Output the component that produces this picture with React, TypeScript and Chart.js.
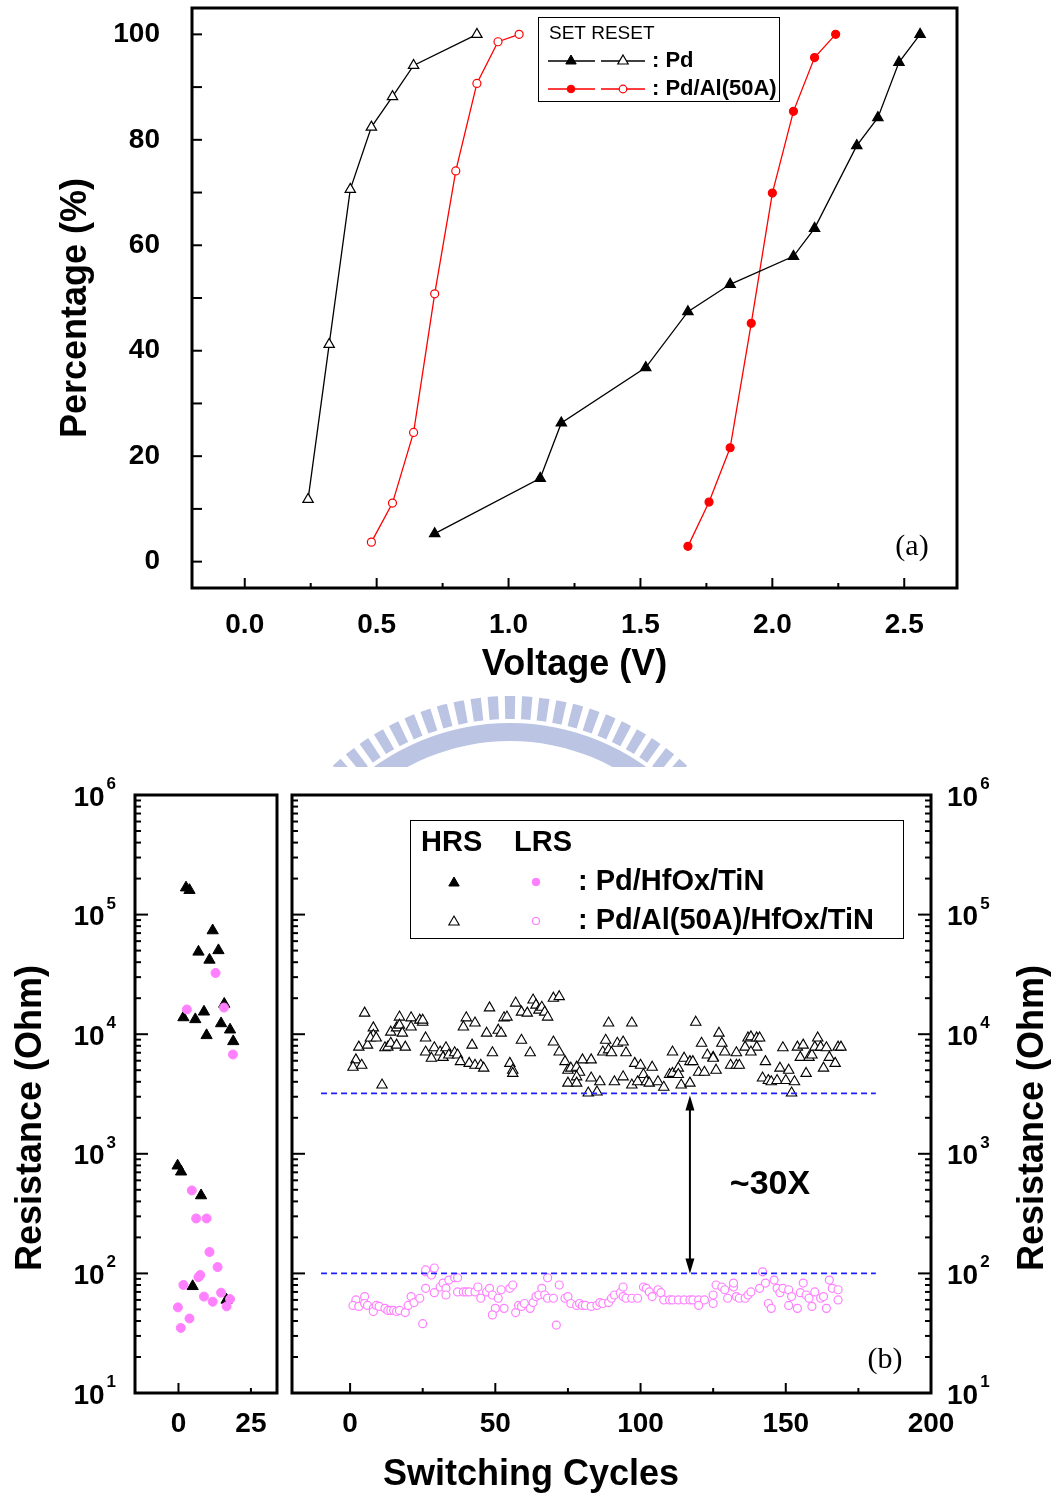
import React, { useEffect, useRef } from 'react';
import { Chart, registerables } from 'chart.js';

Chart.register(...registerables);

const FONT = '"Liberation Sans", Arial, Helvetica, sans-serif';
const SERIF = '"Liberation Serif", "Times New Roman", serif';
Chart.defaults.font.family = FONT;
Chart.defaults.color = '#000';

// ---------------- (a) cumulative distribution data ----------------
const pdSetVoltage = [0.72, 1.12, 1.2, 1.52, 1.68, 1.84, 2.08, 2.16, 2.32, 2.4, 2.48, 2.56];
const pdSetPercent = [5.3, 15.8, 26.3, 36.8, 47.4, 52.6, 57.9, 63.2, 78.9, 84.2, 94.7, 100];
const pdResetVoltage = [0.24, 0.32, 0.4, 0.48, 0.56, 0.64, 0.88];
const pdResetPercent = [11.8, 41.2, 70.6, 82.4, 88.2, 94.1, 100];
const alSetVoltage = [1.68, 1.76, 1.84, 1.92, 2.0, 2.08, 2.16, 2.24];
const alSetPercent = [2.9, 11.3, 21.6, 45.2, 69.9, 85.4, 95.6, 100];
const alResetVoltage = [0.48, 0.56, 0.64, 0.72, 0.8, 0.88, 0.96, 1.04];
const alResetPercent = [3.7, 11.1, 24.5, 50.8, 74.1, 90.7, 98.6, 100];

const voltageTicks = [0, 0.5, 1, 1.5, 2, 2.5];
const voltageMinorTicks = [0.25, 0.75, 1.25, 1.75, 2.25];
const percentTicks = [0, 20, 40, 60, 80, 100];
const percentAllTicks = [0, 10, 20, 30, 40, 50, 60, 70, 80, 90, 100];

// ---------------- (b) endurance data ----------------
const pdHrsCycle = [2.6, 3.8, 11.8, 6.9, 13.8, 10.7, 15.8, 8.8, 1.7, 5.8, 14.7, 17.8, 9.7, 18.9, -0.3, 0.9, 7.8, 4.9, 16.6];
const pdHrsOhm = [168000, 160000, 73600, 48800, 50200, 41800, 17900, 15400, 13800, 13300, 12300, 10900, 9780, 8710, 795, 708, 448, 78, 60];
const pdLrsCycle = [2.9, 12.8, 15.7, 18.8, 4.6, 6.1, 9.7, 10.7, 13.5, 7.5, 6.9, 1.7, 8.8, 11.8, 14.7, 17.8, 16.6, -0.2, 3.8, 0.8];
const pdLrsOhm = [16100, 32500, 16700, 6770, 494, 288, 288, 151, 113, 97, 93, 80, 64, 58, 69, 61, 53, 52, 42, 35];

const alHrsCycle = [
  5, 2, 1, 4, 3, 6, 8, 8, 7, 9,
  11, 12, 13, 14, 16, 19, 14, 16, 17, 17,
  18, 21, 21, 24, 25, 25, 26, 26, 28, 29,
  31, 32, 33, 34, 36, 37, 38, 41, 43, 45,
  46, 42, 40, 39, 43, 48, 47, 49, 51, 52,
  53, 54, 55, 56, 56, 57, 59, 59, 61, 62,
  63, 64, 65, 66, 67, 68, 70, 72, 70, 72,
  74, 75, 76, 78, 79, 78, 80, 83, 75, 78,
  82, 85, 83, 86, 87, 89, 90, 88, 89, 91,
  92, 94, 94, 95, 97, 97, 98, 100, 99, 101,
  102, 103, 104, 106, 108, 110, 111, 111, 113, 113,
  114, 115, 117, 118, 117, 119, 120, 122, 121, 123,
  125, 125, 126, 127, 128, 129, 131, 133, 134, 133,
  136, 137, 138, 140, 141, 140, 138, 142, 143, 144,
  145, 147, 148, 149, 150, 151, 152, 153, 154, 155,
  156, 157, 158, 159, 160, 161, 162, 164, 163, 165,
  167, 168, 169,
];
const alHrsOhm = [
  15000, 6100, 5300, 5500, 7800, 8100, 11300, 9800, 9300, 9300,
  3760, 7700, 7800, 8400, 8100, 7800, 10400, 11300, 13900, 11900,
  10200, 13700, 11500, 13100, 12600, 13100, 9300, 7100, 6300, 7700,
  7100, 6400, 7700, 6700, 7000, 6700, 5900, 5700, 5500, 5500,
  5200, 8100, 13700, 11500, 12400, 16600, 10200, 7000, 10800, 10200,
  13700, 13900, 5700, 5000, 4700, 18200, 8900, 15300, 15000, 7000,
  19300, 17500, 15900, 16800, 15300, 13900, 20000, 20600, 8600, 7100,
  5900, 5000, 5200, 5300, 4800, 4400, 6100, 6100, 3900, 3900,
  3220, 3290, 4300, 4000, 7100, 7400, 7000, 8900, 12400, 4000,
  8400, 8600, 4400, 7000, 12400, 3760, 5700, 5500, 4000, 4600,
  4000, 3900, 5300, 4000, 3600, 4600, 4700, 7100, 5200, 4600,
  3760, 6300, 5900, 5900, 3900, 12600, 4800, 4800, 8400, 6700,
  6400, 6300, 5000, 10200, 8400, 7100, 5500, 5500, 5500, 7000,
  7800, 9300, 9500, 9300, 9300, 7800, 7100, 4300, 5900, 4100,
  4000, 4100, 5200, 7700, 4100, 5000, 3220, 4000, 7800, 6400,
  8100, 4700, 6400, 6700, 7800, 9300, 7800, 7700, 5200, 6400,
  5700, 7800, 7800,
];
const alLrsCycle = [
  2, 1, 3, 5, 5, 6, 8, 8, 9, 10,
  12, 13, 14, 15, 16, 17, 19, 20, 21, 22,
  24, 25, 26, 26, 26, 28, 29, 29, 31, 32,
  33, 33, 34, 36, 37, 37, 39, 40, 41, 43,
  44, 45, 47, 48, 49, 50, 49, 51, 52, 53,
  55, 56, 57, 58, 59, 60, 62, 63, 64, 65,
  66, 67, 68, 68, 70, 71, 72, 74, 75, 76,
  78, 79, 80, 81, 83, 85, 86, 87, 89, 90,
  91, 93, 94, 94, 95, 97, 99, 101, 102, 103,
  104, 106, 107, 108, 110, 111, 113, 115, 117, 118,
  120, 122, 120, 125, 125, 126, 128, 129, 130, 132,
  132, 133, 134, 136, 137, 138, 141, 142, 143, 144,
  145, 146, 147, 148, 149, 151, 151, 152, 154, 155,
  156, 157, 158, 159, 160, 162, 163, 164, 165, 166,
  168, 168,
];
const alLrsOhm = [
  60, 54, 53, 64, 56, 54, 51, 48, 54, 53,
  51, 49, 49, 49, 48, 49, 47, 54, 64, 57,
  62, 38, 75, 103, 107, 97, 111, 69, 77, 83,
  75, 66, 88, 92, 92, 70, 70, 70, 70, 70,
  77, 62, 70, 75, 66, 51, 45, 62, 73, 51,
  75, 80, 47, 54, 53, 56, 51, 57, 64, 66,
  75, 66, 92, 62, 62, 37, 80, 62, 64, 56,
  54, 56, 54, 54, 53, 54, 57, 56, 57, 62,
  66, 69, 77, 64, 62, 62, 62, 77, 75, 70,
  64, 73, 69, 60, 60, 60, 60, 60, 60, 60,
  60, 60, 54, 56, 66, 80, 77, 73, 62, 77,
  83, 64, 62, 62, 66, 70, 75, 103, 83, 56,
  51, 88, 75, 69, 75, 73, 54, 64, 51, 69,
  83, 66, 62, 53, 70, 62, 64, 51, 88, 75,
  73, 60,
];

const thresholdCycles = [-10, 181];
const hrsThreshold = 3200;
const lrsThreshold = 100;
const arrowCycle = 117;

const leftCycleTicks = [0, 25];
const rightCycleTicks = [0, 50, 100, 150, 200];
const rightCycleMinorTicks = [25, 75, 125, 175];
const decadeExponents = [1, 2, 3, 4, 5, 6];

// ---------------- helpers ----------------
const pts = (xs: number[], ys: number[]) => xs.map((x, i) => ({ x, y: ys[i] }));

function logMinor(): number[] {
  const out: number[] = [];
  for (let e = 1; e <= 5; e++) for (let m = 2; m <= 9; m++) out.push(m * Math.pow(10, e));
  return out;
}

type Side = 'left' | 'right' | 'bottom';
function drawTicks(chart: any, axis: string, values: number[], len: number, side: Side) {
  const ctx = chart.ctx;
  const a = chart.chartArea;
  const sc = chart.scales[axis];
  ctx.save();
  ctx.strokeStyle = '#000';
  ctx.lineWidth = 2;
  for (const v of values) {
    const p = sc.getPixelForValue(v);
    ctx.beginPath();
    if (side === 'left') { ctx.moveTo(a.left, p); ctx.lineTo(a.left + len, p); }
    else if (side === 'right') { ctx.moveTo(a.right, p); ctx.lineTo(a.right - len, p); }
    else { ctx.moveTo(p, a.bottom); ctx.lineTo(p, a.bottom - len); }
    ctx.stroke();
  }
  ctx.restore();
}

function drawFrame(chart: any) {
  const ctx = chart.ctx;
  const a = chart.chartArea;
  ctx.save();
  ctx.strokeStyle = '#000';
  ctx.lineWidth = 3;
  ctx.strokeRect(a.left, a.top, a.right - a.left, a.bottom - a.top);
  ctx.restore();
}

function text(ctx: any, s: string, x: number, y: number, font: string, align = 'center', rot = 0, color = '#000') {
  ctx.save();
  ctx.translate(x, y);
  if (rot) ctx.rotate(rot);
  ctx.font = font;
  ctx.fillStyle = color;
  ctx.textAlign = align;
  ctx.textBaseline = 'middle';
  ctx.fillText(s, 0, 0);
  ctx.restore();
}

function marker(ctx: any, style: string, x: number, y: number, r: number, fill: string, stroke: string, lw = 1) {
  ctx.save();
  ctx.beginPath();
  if (style === 'triangle') {
    ctx.moveTo(x, y - r);
    ctx.lineTo(x + 0.866 * r, y + 0.5 * r);
    ctx.lineTo(x - 0.866 * r, y + 0.5 * r);
    ctx.closePath();
  } else {
    ctx.arc(x, y, r, 0, Math.PI * 2);
  }
  ctx.fillStyle = fill;
  ctx.fill();
  ctx.strokeStyle = stroke;
  ctx.lineWidth = lw;
  ctx.stroke();
  ctx.restore();
}

function powLabel(ctx: any, exp: string, x: number, y: number, align: 'left' | 'right') {
  ctx.save();
  ctx.fillStyle = '#000';
  ctx.textAlign = 'left';
  ctx.textBaseline = 'alphabetic';
  const big = `bold 28px ${FONT}`;
  const small = `bold 17px ${FONT}`;
  ctx.font = big;
  const w10 = ctx.measureText('10').width;
  ctx.font = small;
  const we = ctx.measureText(exp).width;
  const x0 = align === 'right' ? x - w10 - 2 - we : x;
  ctx.font = big;
  ctx.fillText('10', x0, y + 10.5);
  ctx.font = small;
  ctx.fillText(exp, x0 + w10 + 2, y - 6);
  ctx.restore();
}

function drawWatermark(ctx: any) {
  ctx.save();
  ctx.beginPath();
  ctx.rect(0, 680, 1057, 87);
  ctx.clip();
  ctx.fillStyle = 'rgb(188,196,228)';
  const cx = 510, cy = 956;
  ctx.beginPath();
  ctx.arc(cx, cy, 233, Math.PI, 2 * Math.PI);
  ctx.arc(cx, cy, 215, 2 * Math.PI, Math.PI, true);
  ctx.closePath();
  ctx.fill();
  const step = (3.8 * Math.PI) / 180;
  const half = (1.15 * Math.PI) / 180;
  for (let k = -12; k <= 12; k++) {
    const ang = -Math.PI / 2 + k * step;
    ctx.beginPath();
    ctx.arc(cx, cy, 260, ang - half, ang + half);
    ctx.arc(cx, cy, 237, ang + half, ang - half, true);
    ctx.closePath();
    ctx.fill();
  }
  ctx.restore();
}

const boldTick = { size: 28, weight: 'bold' as const };
const noGrid = { display: false, drawTicks: false };
const noBorder = { display: false };

// ---------------- chart (a) ----------------
function makeChartA(canvas: HTMLCanvasElement) {
  const deco = {
    id: 'decoA',
    afterDraw(chart: any) {
      const ctx = chart.ctx;
      drawTicks(chart, 'y', percentAllTicks, 10, 'left');
      drawTicks(chart, 'x', voltageTicks, 10, 'bottom');
      drawTicks(chart, 'x', voltageMinorTicks, 5, 'bottom');
      drawFrame(chart);
      text(ctx, 'Percentage (%)', 76, 308, `bold 36px ${FONT}`, 'center', -Math.PI / 2);
      text(ctx, '(a)', 912, 547, `30px ${SERIF}`);
      // legend
      ctx.save();
      ctx.fillStyle = '#fff';
      ctx.fillRect(538, 17, 241, 84);
      ctx.strokeStyle = '#000';
      ctx.lineWidth = 1;
      ctx.strokeRect(538.5, 17.5, 241, 84);
      ctx.restore();
      text(ctx, 'SET RESET', 549, 34, `19px ${FONT}`, 'left');
      const rows = [
        { y: 61, color: '#000', style: 'triangle', r: 6, label: ': Pd' },
        { y: 89, color: '#ff0000', style: 'circle', r: 3.8, label: ': Pd/Al(50A)' },
      ];
      for (const row of rows) {
        ctx.save();
        ctx.strokeStyle = row.color;
        ctx.lineWidth = 1.3;
        ctx.beginPath();
        ctx.moveTo(548, row.y); ctx.lineTo(595, row.y);
        ctx.moveTo(601, row.y); ctx.lineTo(645, row.y);
        ctx.stroke();
        ctx.restore();
        marker(ctx, row.style, 571, row.y, row.r, row.color, row.color, 1);
        marker(ctx, row.style, 623, row.y, row.r, '#fff', row.color, 1.2);
        text(ctx, row.label, 652, row.y, `bold 22px ${FONT}`, 'left');
      }
      drawWatermark(ctx);
    },
  };
  const line = (label: string, data: any[], color: string, style: string, r: number, filled: boolean) => ({
    label,
    data,
    showLine: true,
    borderColor: color,
    borderWidth: 1.3,
    pointStyle: style,
    pointRadius: r,
    pointBackgroundColor: filled ? color : '#fff',
    pointBorderColor: color,
    pointBorderWidth: 1.2,
  });
  return new Chart(canvas, {
    type: 'scatter',
    data: {
      datasets: [
        line('Pd SET', pts(pdSetVoltage, pdSetPercent), '#000', 'triangle', 6, true),
        line('Pd RESET', pts(pdResetVoltage, pdResetPercent), '#000', 'triangle', 6, false),
        line('Pd/Al SET', pts(alSetVoltage, alSetPercent), '#ff0000', 'circle', 4, true),
        line('Pd/Al RESET', pts(alResetVoltage, alResetPercent), '#ff0000', 'circle', 4, false),
      ] as any,
    },
    options: {
      responsive: false,
      animation: false,
      layout: { padding: { left: 0, right: 100, top: 8, bottom: 0 } },
      plugins: { legend: { display: false }, tooltip: { enabled: false } },
      scales: {
        x: {
          type: 'linear',
          min: -0.2,
          max: 2.7,
          afterBuildTicks: (s: any) => { s.ticks = voltageTicks.map((v) => ({ value: v })); },
          afterFit: (s: any) => { s.height = 182; s.paddingLeft = 0; s.paddingRight = 0; },
          grid: noGrid,
          border: noBorder,
          ticks: { font: boldTick, color: '#000', padding: 20, autoSkip: false, maxRotation: 0, callback: (v: any) => Number(v).toFixed(1) },
          title: { display: true, text: 'Voltage (V)', color: '#000', font: { size: 36, weight: 'bold' }, padding: { top: 0, bottom: 83 } },
        },
        y: {
          type: 'linear',
          min: -5,
          max: 105,
          afterBuildTicks: (s: any) => { s.ticks = percentTicks.map((v) => ({ value: v })); },
          afterFit: (s: any) => { s.width = 192; s.paddingTop = 0; s.paddingBottom = 0; },
          grid: noGrid,
          border: noBorder,
          ticks: { font: boldTick, color: '#000', padding: 32, callback: (v: any) => String(v) },
        },
      },
    } as any,
    plugins: [deco],
  });
}

// ---------------- chart (b), left panel ----------------
function makeChartBLeft(canvas: HTMLCanvasElement) {
  const deco = {
    id: 'decoBL',
    afterDraw(chart: any) {
      const ctx = chart.ctx;
      const ys = chart.scales.y;
      drawTicks(chart, 'y', decadeExponents.map((e) => Math.pow(10, e)), 13, 'left');
      drawTicks(chart, 'y', logMinor(), 6, 'left');
      drawTicks(chart, 'x', [leftCycleTicks[0]], 10, 'bottom');
      drawTicks(chart, 'x', [leftCycleTicks[1]], 5, 'bottom');
      drawFrame(chart);
      for (const e of decadeExponents) powLabel(ctx, String(e), 116, ys.getPixelForValue(Math.pow(10, e)), 'right');
    },
  };
  return new Chart(canvas, {
    type: 'scatter',
    data: {
      datasets: [
        { label: 'LRS Pd/HfOx/TiN', data: pts(pdLrsCycle, pdLrsOhm), pointStyle: 'circle', pointRadius: 4.5, pointBackgroundColor: '#ff80ff', pointBorderColor: '#ff80ff', pointBorderWidth: 1 },
        { label: 'HRS Pd/HfOx/TiN', data: pts(pdHrsCycle, pdHrsOhm), pointStyle: 'triangle', pointRadius: 6.5, pointBackgroundColor: '#000', pointBorderColor: '#000', pointBorderWidth: 1 },
      ] as any,
    },
    options: {
      responsive: false,
      animation: false,
      layout: { padding: { left: 0, right: 780, top: 35, bottom: 0 } },
      plugins: { legend: { display: false }, tooltip: { enabled: false } },
      scales: {
        x: {
          type: 'linear',
          min: -15,
          max: 34,
          afterBuildTicks: (s: any) => { s.ticks = leftCycleTicks.map((v) => ({ value: v })); },
          afterFit: (s: any) => { s.height = 105; s.paddingLeft = 0; s.paddingRight = 0; },
          grid: noGrid,
          border: noBorder,
          ticks: { font: boldTick, color: '#000', padding: 14, autoSkip: false, maxRotation: 0, callback: (v: any) => String(v) },
        },
        y: {
          type: 'logarithmic',
          min: 10,
          max: 1e6,
          afterFit: (s: any) => { s.width = 135; s.paddingTop = 0; s.paddingBottom = 0; },
          grid: noGrid,
          border: noBorder,
          ticks: { display: false },
        },
      },
    } as any,
    plugins: [deco],
  });
}

// ---------------- chart (b), right panel ----------------
function makeChartBRight(canvas: HTMLCanvasElement) {
  const deco = {
    id: 'decoBR',
    afterDraw(chart: any) {
      const ctx = chart.ctx;
      const xs = chart.scales.x;
      const ys = chart.scales.y;
      const majors = decadeExponents.map((e) => Math.pow(10, e));
      drawTicks(chart, 'y', majors, 13, 'left');
      drawTicks(chart, 'y', logMinor(), 6, 'left');
      drawTicks(chart, 'y', majors, 13, 'right');
      drawTicks(chart, 'y', logMinor(), 6, 'right');
      drawTicks(chart, 'x', rightCycleTicks, 10, 'bottom');
      drawTicks(chart, 'x', rightCycleMinorTicks, 5, 'bottom');
      drawFrame(chart);
      for (const e of decadeExponents) powLabel(ctx, String(e), 947, ys.getPixelForValue(Math.pow(10, e)), 'left');

      // arrow between thresholds
      const ax = xs.getPixelForValue(arrowCycle);
      const yTop = ys.getPixelForValue(hrsThreshold) + 2;
      const yBot = ys.getPixelForValue(lrsThreshold);
      ctx.save();
      ctx.strokeStyle = '#000';
      ctx.fillStyle = '#000';
      ctx.lineWidth = 2;
      ctx.beginPath();
      ctx.moveTo(ax, yTop + 10);
      ctx.lineTo(ax, yBot - 10);
      ctx.stroke();
      ctx.beginPath();
      ctx.moveTo(ax, yTop); ctx.lineTo(ax - 4.5, yTop + 15); ctx.lineTo(ax + 4.5, yTop + 15); ctx.closePath(); ctx.fill();
      ctx.beginPath();
      ctx.moveTo(ax, yBot); ctx.lineTo(ax - 4.5, yBot - 15); ctx.lineTo(ax + 4.5, yBot - 15); ctx.closePath(); ctx.fill();
      ctx.restore();

      text(ctx, '~30X', 770, 425, `bold 34px ${FONT}`);
      text(ctx, '(b)', 885, 600, `30px ${SERIF}`);

      // axis titles
      text(ctx, 'Resistance (Ohm)', 31, 358, `bold 36px ${FONT}`, 'center', -Math.PI / 2);
      text(ctx, 'Resistance (Ohm)', 1033, 358, `bold 36px ${FONT}`, 'center', -Math.PI / 2);
      text(ctx, 'Switching Cycles', 531, 715, `bold 36px ${FONT}`);

      // legend
      ctx.save();
      ctx.fillStyle = '#fff';
      ctx.fillRect(410, 60, 493, 118);
      ctx.strokeStyle = '#000';
      ctx.lineWidth = 1;
      ctx.strokeRect(410.5, 60.5, 493, 118);
      ctx.restore();
      text(ctx, 'HRS', 421, 83, `bold 29px ${FONT}`, 'left');
      text(ctx, 'LRS', 514, 83, `bold 29px ${FONT}`, 'left');
      marker(ctx, 'triangle', 454, 123, 6, '#000', '#000', 1);
      marker(ctx, 'circle', 536, 122, 3.8, '#ff80ff', '#ff80ff', 1);
      text(ctx, ': Pd/HfOx/TiN', 578, 122, `bold 29px ${FONT}`, 'left');
      marker(ctx, 'triangle', 454, 162, 6, '#fff', '#000', 1.1);
      marker(ctx, 'circle', 536, 161, 3.5, '#fff', '#ff80ff', 1.2);
      text(ctx, ': Pd/Al(50A)/HfOx/TiN', 578, 161, `bold 29px ${FONT}`, 'left');
    },
  };
  return new Chart(canvas, {
    type: 'scatter',
    data: {
      datasets: [
        { label: 'HRS level', data: pts(thresholdCycles, [hrsThreshold, hrsThreshold]), showLine: true, pointRadius: 0, borderColor: '#1f1fff', borderWidth: 1.6, borderDash: [6, 4] },
        { label: 'LRS level', data: pts(thresholdCycles, [lrsThreshold, lrsThreshold]), showLine: true, pointRadius: 0, borderColor: '#1f1fff', borderWidth: 1.6, borderDash: [6, 4] },
        { label: 'HRS Pd/Al(50A)/HfOx/TiN', data: pts(alHrsCycle, alHrsOhm), pointStyle: 'triangle', pointRadius: 6, pointBackgroundColor: '#fff', pointBorderColor: '#000', pointBorderWidth: 1.1 },
        { label: 'LRS Pd/Al(50A)/HfOx/TiN', data: pts(alLrsCycle, alLrsOhm), pointStyle: 'circle', pointRadius: 4, pointBackgroundColor: '#fff', pointBorderColor: '#ff80ff', pointBorderWidth: 1.2 },
      ] as any,
    },
    options: {
      responsive: false,
      animation: false,
      layout: { padding: { left: 292, right: 0, top: 35, bottom: 0 } },
      plugins: { legend: { display: false }, tooltip: { enabled: false } },
      scales: {
        x: {
          type: 'linear',
          min: -20,
          max: 200,
          afterBuildTicks: (s: any) => { s.ticks = rightCycleTicks.map((v) => ({ value: v })); },
          afterFit: (s: any) => { s.height = 105; s.paddingLeft = 0; s.paddingRight = 0; },
          grid: noGrid,
          border: noBorder,
          ticks: { font: boldTick, color: '#000', padding: 14, autoSkip: false, maxRotation: 0, callback: (v: any) => String(v) },
        },
        y: {
          type: 'logarithmic',
          position: 'right',
          min: 10,
          max: 1e6,
          afterFit: (s: any) => { s.width = 126; s.paddingTop = 0; s.paddingBottom = 0; },
          grid: noGrid,
          border: noBorder,
          ticks: { display: false },
        },
      },
    } as any,
    plugins: [deco],
  });
}

export default function App() {
  const refA = useRef<HTMLCanvasElement>(null);
  const refBL = useRef<HTMLCanvasElement>(null);
  const refBR = useRef<HTMLCanvasElement>(null);

  useEffect(() => {
    const charts: Chart[] = [];
    if (refA.current) charts.push(makeChartA(refA.current));
    if (refBL.current) charts.push(makeChartBLeft(refBL.current));
    if (refBR.current) charts.push(makeChartBRight(refBR.current));
    return () => charts.forEach((c) => c.destroy());
  }, []);

  const abs = (top: number): React.CSSProperties => ({ position: 'absolute', left: 0, top, display: 'block' });
  return (
    <div style={{ position: 'absolute', left: 0, top: 0, width: 1057, height: 1498, background: '#fff', overflow: 'hidden' }}>
      <canvas ref={refA} width={1057} height={770} style={abs(0)} />
      <canvas ref={refBL} width={1057} height={738} style={abs(760)} />
      <canvas ref={refBR} width={1057} height={738} style={abs(760)} />
    </div>
  );
}
